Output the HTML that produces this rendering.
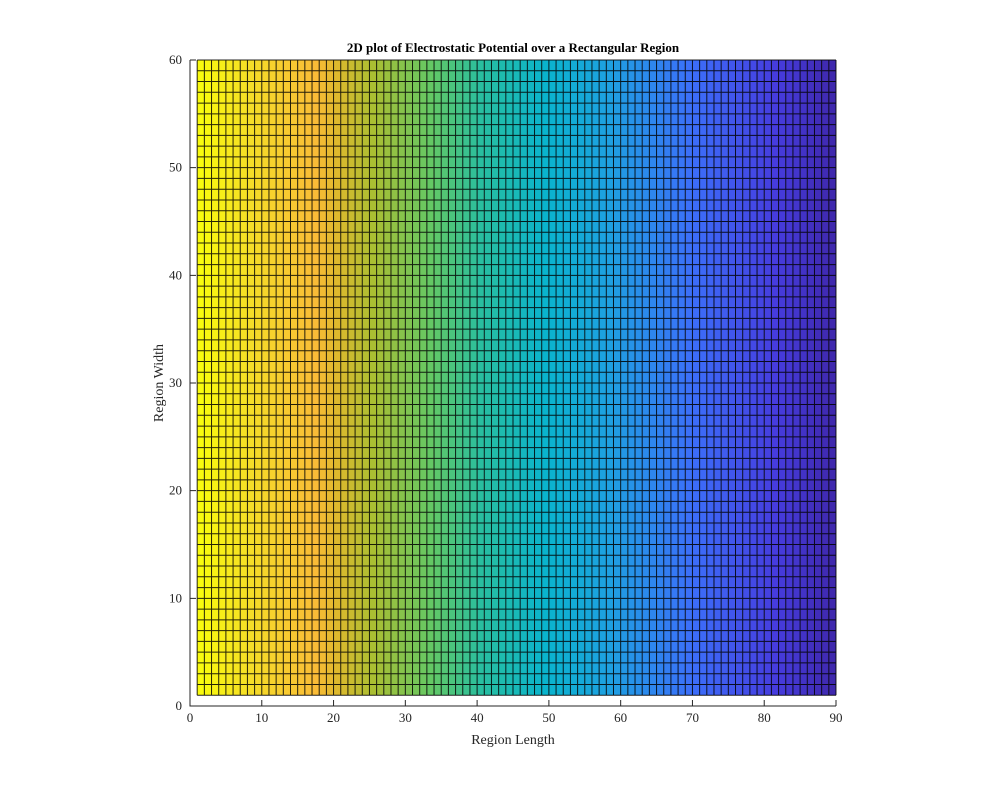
<!DOCTYPE html>
<html><head><meta charset="utf-8"><style>
html,body{margin:0;padding:0;background:#fff;}
svg{display:block;font-family:"Liberation Serif",serif;}
</style></head><body>
<svg id="chart" width="991" height="793" viewBox="0 0 991 793">
<rect x="0" y="0" width="991" height="793" fill="#fff"/>
<g id="cells"></g>
<g id="axes"></g>
<text x="513" y="52" text-anchor="middle" font-weight="bold" font-size="13">2D plot of Electrostatic Potential over a Rectangular Region</text>
<text x="513" y="744" text-anchor="middle" font-size="14" fill="#262626">Region Length</text>
<text x="163" y="383" text-anchor="middle" font-size="14" fill="#262626" transform="rotate(-90 163 383)">Region Width</text>
</svg>
<script>
const xTicks=[0,10,20,30,40,50,60,70,80,90];
const yTicks=[0,10,20,30,40,50,60];
const xGrid=[1,2,3,4,5,6,7,8,9,10,11,12,13,14,15,16,17,18,19,20,21,22,23,24,25,26,27,28,29,30,31,32,33,34,35,36,37,38,39,40,41,42,43,44,45,46,47,48,49,50,51,52,53,54,55,56,57,58,59,60,61,62,63,64,65,66,67,68,69,70,71,72,73,74,75,76,77,78,79,80,81,82,83,84,85,86,87,88,89,90];
const yGrid=[1,2,3,4,5,6,7,8,9,10,11,12,13,14,15,16,17,18,19,20,21,22,23,24,25,26,27,28,29,30,31,32,33,34,35,36,37,38,39,40,41,42,43,44,45,46,47,48,49,50,51,52,53,54,55,56,57,58,59,60];
const potential=[89,88,87,86,85,84,83,82,81,80,79,78,77,76,75,74,73,72,71,70,69,68,67,66,65,64,63,62,61,60,59,58,57,56,55,54,53,52,51,50,49,48,47,46,45,44,43,42,41,40,39,38,37,36,35,34,33,32,31,30,29,28,27,26,25,24,23,22,21,20,19,18,17,16,15,14,13,12,11,10,9,8,7,6,5,4,3,2,1,0];
const X0=190,X1=836,Y0=706,Y1=60;
const sx=v=>X0+(v-0)/(90-0)*(X1-X0);
const sy=v=>Y0-(v-0)/(60-0)*(Y0-Y1);
const stops=[[0,62,38,168],[0.1,70,60,222],[0.23,60,110,250],[0.36,30,160,225],[0.46,10,180,205],[0.56,40,190,160],[0.64,100,200,100],[0.73,170,190,50],[0.79,225,185,45],[0.82,250,188,55],[0.92,245,220,40],[1,249,251,14]];
function parula(t){for(let i=1;i<stops.length;i++){if(t<=stops[i][0]){const a=stops[i-1],b=stops[i],f=(t-a[0])/(b[0]-a[0]);return `rgb(${[1,2,3].map(k=>Math.round(a[k]+(b[k]-a[k])*f)).join(',')})`;}}return 'rgb(249,251,14)';}
const NS='http://www.w3.org/2000/svg';
const cells=document.getElementById('cells');
const pmin=Math.min(...potential),pmax=Math.max(...potential);
for(let i=0;i<xGrid.length-1;i++){
  const r=document.createElementNS(NS,'rect');
  
  
  r.setAttribute('x',sx(xGrid[i]));r.setAttribute('y',sy(yGrid[yGrid.length-1]));
  r.setAttribute('width',sx(xGrid[i+1])-sx(xGrid[i]));r.setAttribute('height',sy(yGrid[0])-sy(yGrid[yGrid.length-1]));
  r.setAttribute('fill',parula((potential[i]-pmin)/(pmax-pmin)));
  cells.appendChild(r);
}
let d='';
xGrid.forEach(v=>{d+=`M${sx(v)} ${sy(yGrid[0])}V${sy(yGrid[yGrid.length-1])}`;});
yGrid.forEach(v=>{d+=`M${sx(xGrid[0])} ${sy(v)}H${sx(xGrid[xGrid.length-1])}`;});
const g=document.createElementNS(NS,'path');


g.setAttribute('d',d);g.setAttribute('stroke','#000');g.setAttribute('stroke-width','1');g.setAttribute('fill','none');g.setAttribute('opacity','0.85');
cells.appendChild(g);
const axes=document.getElementById('axes');
let ad=`M${X0} ${Y1}V${Y0}H${X1}`;
xTicks.forEach(v=>{ad+=`M${sx(v)} ${Y0}v-6`;});
yTicks.forEach(v=>{ad+=`M${X0} ${sy(v)}h6`;});
const ap=document.createElementNS(NS,'path');


ap.setAttribute('d',ad);ap.setAttribute('stroke','#262626');ap.setAttribute('fill','none');
axes.appendChild(ap);
xTicks.forEach(v=>{const t=document.createElementNS(NS,'text');


t.setAttribute('x',sx(v));t.setAttribute('y',Y0+16);t.setAttribute('text-anchor','middle');t.setAttribute('font-size','13');t.setAttribute('fill','#262626');t.textContent=v;axes.appendChild(t);});
yTicks.forEach(v=>{const t=document.createElementNS(NS,'text');


t.setAttribute('x',X0-8);t.setAttribute('y',sy(v)+4);t.setAttribute('text-anchor','end');t.setAttribute('font-size','13');t.setAttribute('fill','#262626');t.textContent=v;axes.appendChild(t);});
</script>
</body></html>
